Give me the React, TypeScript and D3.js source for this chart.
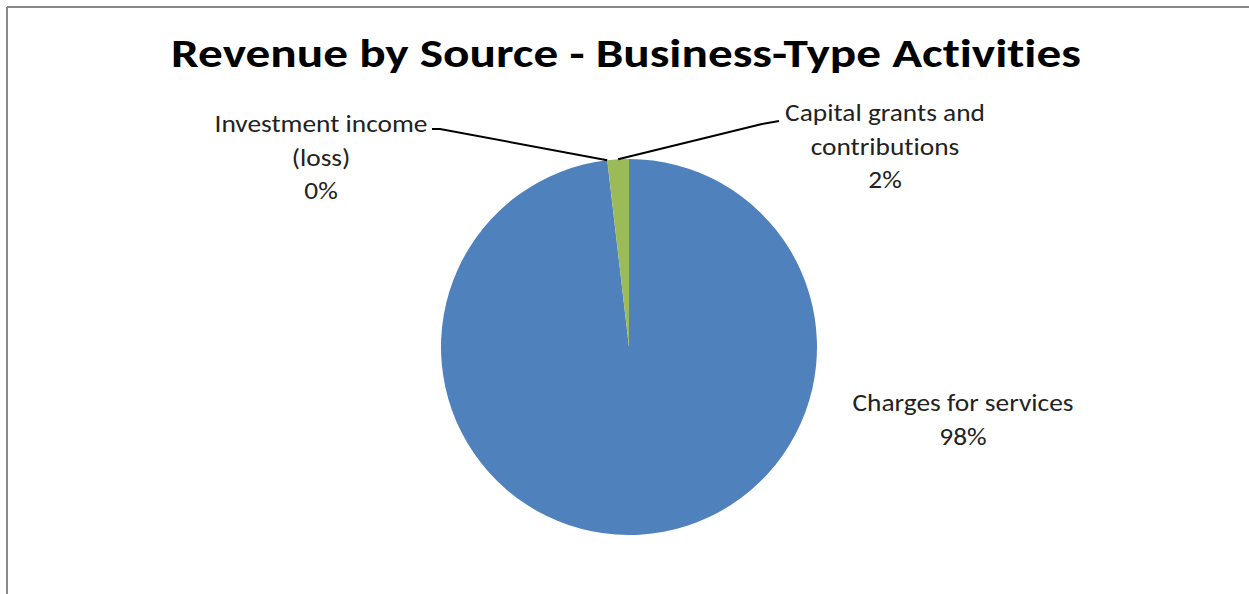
import React from "react";
import * as d3 from "d3";

const title = "Revenue by Source - Business-Type Activities";
const categories = ["Charges for services", "Investment income (loss)", "Capital grants and contributions"];
const values = [98.15, 0.01, 1.84];
const pctLabels = ["98%", "0%", "2%"];
const labelLines = [["Charges for services"], ["Investment income", "(loss)"], ["Capital grants and", "contributions"]];
const colors = ["#4F81BD", "#C0504D", "#9BBB59"];

const W = 1249, H = 594;
const cx = 629, cy = 347, R = 188;
// label anchor centers (x, first baseline) and leader elbow points
const labelPos: [number, number][] = [[963, 411], [321, 132], [885, 121]];
const leaderElbow: ([number, number][] | null)[] = [null, [[440, 129], [432, 129]], [[762, 124], [779, 121]]];
const SX = 1.165;

export default function App() {
  const pie = d3.pie<number>().sort(null).value((d) => d)(values);
  const arc = d3.arc<d3.PieArcDatum<number>>().innerRadius(0).outerRadius(R);
  const font = "Calibri, Carlito, Lato, 'Open Sans', sans-serif";
  return (
    <svg width={W} height={H} style={{ position: "absolute", left: 0, top: 0, background: "#fff" }}>
      <line x1={7} y1={7} x2={W} y2={7} stroke="#888" strokeWidth={2} />
      <line x1={7} y1={7} x2={7} y2={H} stroke="#888" strokeWidth={2} />
      <text
        transform={`translate(626,67) scale(1.232,1)`}
        textAnchor="middle"
        fontFamily={font}
        fontWeight="bold"
        fontSize={40}
        fill="#000"
        style={{ fontVariantLigatures: "none" }}
      >
        {title}
      </text>
      <g transform={`translate(${cx},${cy})`}>
        {pie.map((p, i) => (
          <path key={categories[i]} d={arc(p) || ""} fill={colors[i]} />
        ))}
      </g>
      {pie.map((p, i) => {
        const elbow = leaderElbow[i];
        if (!elbow) return null;
        const a = i === 1 ? p.startAngle : (p.startAngle + p.endAngle) / 2;
        const ex = cx + R * Math.sin(a);
        const ey = cy - R * Math.cos(a);
        const pts: [number, number][] = [[ex, ey], ...elbow];
        return (
          <path key={"l" + i} d={d3.line()(pts) || ""} fill="none" stroke="#000" strokeWidth={2} />
        );
      })}
      {labelLines.map((lines, i) => (
        <g key={"t" + i}>
          {[...lines, pctLabels[i]].map((s, j) => (
            <text
              key={j}
              transform={`translate(${labelPos[i][0]},${labelPos[i][1] + j * 33.5}) scale(${SX},1)`}
              textAnchor="middle"
              fontFamily={font}
              fontSize={23.5}
              fill="#222"
              style={{ fontVariantLigatures: "none" }}
            >
              {s}
            </text>
          ))}
        </g>
      ))}
    </svg>
  );
}
